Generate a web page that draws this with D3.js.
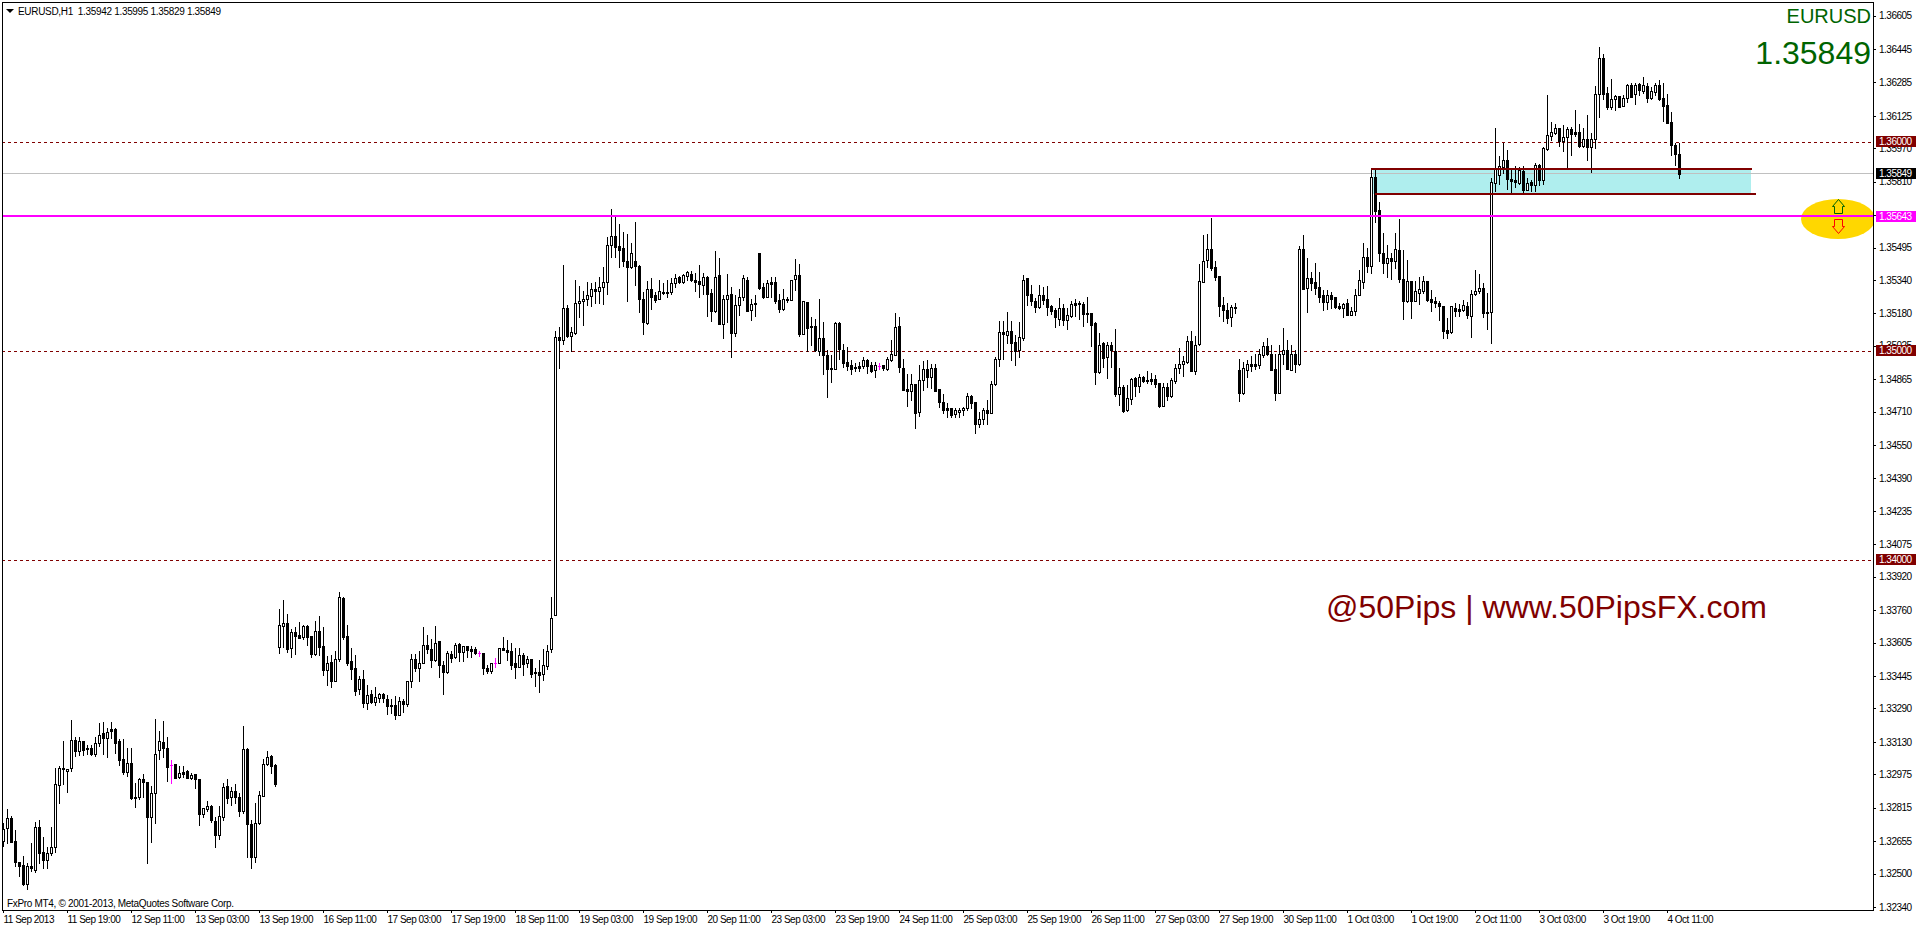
<!DOCTYPE html>
<html>
<head>
<meta charset="utf-8">
<title>EURUSD,H1</title>
<script src="https://d3js.org/d3.v7.min.js"></script>
<style>
html,body{margin:0;padding:0;background:#fff;overflow:hidden}
svg{display:block}
text{font-family:"Liberation Sans",Arial,sans-serif}
.small{font-size:10px;letter-spacing:-.5px;fill:#000}
.wide{letter-spacing:-.32px}
.axis text{font-family:"Liberation Sans",Arial,sans-serif;font-size:10px;letter-spacing:-.5px;fill:#000}
.axis line{stroke:#000;shape-rendering:crispEdges}
</style>
</head>
<body>
<script>
// Prices are held as points above basePrice
const basePrice = 1.32, pointSize = 0.00001;
const opens = [
657,716,764,654,557,539,450,534,517,721,601,563,597,625,925,1003,989,1003,1137,1088,
1134,1099,1099,1072,1123,1171,1147,1190,1192,1133,1046,987,1027,868,865,952,938,769,884,1091,
1128,1099,1021,1022,960,986,991,959,976,952,786,810,823,751,686,772,917,865,893,865,
801,1096,737,577,743,873,1022,1062,1019,1582,1682,1697,1577,1655,1639,1630,1682,1636,1552,1660,
1588,1475,1510,1422,1524,1818,1636,1516,1481,1381,1433,1317,1357,1322,1341,1357,1333,1304,1304,1260,
1325,1312,1419,1524,1481,1505,1591,1574,1521,1611,1500,1465,1550,1534,1596,1561,1587,1574,1574,1553,
1553,1481,1470,1505,1505,1577,1571,1563,1505,1489,1544,1505,1524,1462,1462,1453,1492,1572,1737,3065,
3055,3204,3074,3087,3228,3237,3247,3264,3299,3288,3307,3328,3505,3550,3502,3491,3433,3403,3433,3409,
3251,3133,3299,3266,3250,3277,3280,3282,3323,3352,3330,3360,3369,3342,3333,3317,3355,3277,3192,3362,
3130,3247,3271,3087,3218,3256,3342,3196,3228,3467,3304,3259,3330,3330,3244,3200,3251,3245,3346,3366,
3082,3234,3122,3122,3001,3062,2980,2918,2912,3134,3003,2945,2931,2923,2926,2926,2955,2931,2910,2928,
2931,2915,2958,2982,3118,2921,2816,2810,2840,2706,2859,2912,2874,2921,2816,2754,2725,2725,2697,2709,
2716,2725,2787,2754,2652,2677,2716,2705,2842,2960,3089,3078,3098,3043,3004,3063,3347,3275,3240,3212,
3268,3248,3215,3196,3154,3205,3148,3167,3228,3229,3224,3181,3180,3132,2899,3036,2969,3027,3001,2795,
2827,2717,2771,2870,2834,2875,2861,2864,2864,2845,2738,2827,2783,2857,2920,2939,2948,3046,2905,3035,
3331,3436,3486,3401,3357,3220,3196,3164,3210,2909,2798,2910,2937,2937,2934,2980,3023,2988,2913,2800,
2984,3007,2910,2984,2936,3486,3303,3347,3328,3304,3266,3236,3266,3256,3213,3207,3228,3173,3189,3269,
3332,3448,3405,3831,3673,3471,3423,3444,3429,3484,3343,3241,3334,3241,3279,3289,3334,3247,3238,3231,
3216,3099,3093,3204,3201,3196,3216,3169,3273,3286,3300,3185,3185,3806,3842,3882,3914,3821,3818,3802,
3861,3772,3809,3794,3890,3820,3968,4030,4045,4065,4006,4026,4061,4048,4048,3983,4013,3978,4016,4228,
4400,4233,4169,4204,4219,4174,4212,4273,4228,4276,4246,4268,4212,4241,4273,4211,4177,4094,3984,3942];
const closes = [
711,764,652,557,538,450,536,528,721,600,565,597,625,927,1003,999,999,1137,1088,1134,
1093,1094,1070,1123,1161,1150,1179,1184,1126,1043,987,1027,861,863,952,939,772,884,1070,1133,
1099,1011,1021,959,979,976,959,971,951,785,812,821,756,684,775,916,860,893,865,801,
1094,735,577,740,874,1022,1056,1016,928,1687,1697,1572,1655,1638,1626,1682,1633,1552,1662,1585,
1473,1508,1422,1528,1821,1630,1508,1477,1374,1433,1317,1355,1322,1343,1357,1341,1303,1301,1260,1323,
1312,1419,1524,1485,1505,1591,1574,1523,1601,1500,1465,1553,1532,1591,1561,1587,1571,1566,1553,1553,
1485,1470,1505,1505,1577,1571,1561,1499,1489,1544,1504,1524,1456,1457,1451,1496,1566,1721,3065,3055,
3204,3071,3089,3228,3237,3247,3266,3299,3288,3304,3328,3505,3550,3499,3484,3432,3403,3467,3408,3250,
3140,3299,3259,3243,3285,3280,3277,3323,3347,3330,3363,3376,3339,3331,3322,3352,3274,3192,3355,3130,
3247,3267,3087,3218,3256,3347,3192,3223,3223,3303,3258,3323,3320,3240,3200,3251,3244,3342,3366,3081,
3237,3111,3116,3004,3060,2980,2915,2912,3134,3008,2944,2928,2915,2920,2920,2955,2928,2905,2931,2928,
2918,2960,2984,3113,2925,2815,2810,2840,2705,2859,2912,2875,2921,2810,2757,2717,2719,2693,2716,2719,
2725,2783,2752,2653,2677,2716,2705,2840,2960,3089,3083,3098,3039,3000,3065,3342,3269,3240,3212,3268,
3244,3212,3193,3162,3204,3148,3172,3223,3221,3223,3177,3178,3126,2901,3031,2968,3027,3004,2794,2829,
2712,2776,2864,2832,2875,2857,2856,2857,2843,2736,2827,2784,2859,2920,2940,2950,3046,2905,3031,3334,
3433,3486,3397,3354,3216,3196,3157,3210,3207,2800,2917,2937,2929,2929,2984,3022,2984,2910,2800,2984,
3007,2915,2984,2937,3486,3298,3347,3326,3303,3259,3236,3266,3247,3212,3205,3223,3173,3189,3269,3338,
3448,3409,3831,3672,3471,3423,3444,3432,3487,3346,3241,3334,3241,3286,3295,3334,3244,3235,3231,3217,
3097,3088,3214,3192,3192,3219,3172,3273,3286,3300,3184,3182,3807,3874,3885,3914,3825,3815,3807,3866,
3770,3806,3794,3888,3818,3971,4032,4048,4065,4006,4022,4061,4038,4038,3981,4013,3978,4013,4228,4400,
4228,4169,4207,4219,4169,4209,4271,4217,4273,4249,4273,4212,4243,4273,4206,4174,4093,3984,3941,3849];
const highs = [
740,807,775,708,557,584,552,644,748,756,673,625,721,1003,1014,1134,999,1235,1155,1155,
1134,1115,1115,1155,1222,1225,1195,1227,1195,1142,1142,1099,1099,935,955,976,939,919,1238,1182,
1228,1152,1043,1024,1014,1014,995,983,976,954,812,847,828,772,823,932,954,916,928,887,
1206,1099,756,836,895,1046,1086,1067,1022,1764,1808,1741,1668,1678,1703,1689,1689,1636,1709,1732,
1681,1540,1545,1564,1847,1821,1687,1577,1545,1445,1473,1400,1378,1390,1365,1365,1354,1333,1349,1346,
1333,1419,1550,1550,1566,1678,1641,1620,1684,1612,1516,1566,1566,1604,1601,1588,1588,1588,1585,1564,
1553,1500,1508,1531,1580,1630,1617,1601,1577,1577,1556,1540,1528,1481,1521,1572,1593,1821,3097,3116,
3411,3220,3116,3339,3310,3288,3328,3323,3331,3352,3400,3547,3679,3642,3610,3567,3562,3515,3618,3411,
3283,3334,3347,3283,3339,3326,3339,3347,3368,3358,3368,3384,3384,3371,3411,3371,3358,3299,3480,3443,
3267,3368,3304,3267,3295,3362,3352,3251,3267,3467,3326,3339,3352,3352,3271,3295,3259,3342,3438,3416,
3237,3236,3161,3151,3248,3140,3004,2980,3137,3137,3033,3017,2957,2944,2947,2972,2964,2949,2949,2941,
2931,2969,3055,3180,3164,2964,2890,2890,2842,2933,2953,2957,2937,2937,2816,2792,2749,2725,2725,2725,
2733,2800,2789,2754,2709,2725,2765,2858,2972,3145,3145,3185,3143,3076,3140,3363,3347,3315,3252,3315,
3307,3311,3220,3204,3252,3224,3204,3240,3247,3240,3236,3256,3180,3137,3087,3044,3044,3044,3103,2921,
2835,2837,2869,2877,2889,2881,2902,2893,2885,2848,2845,2845,2873,2937,3012,2977,3073,3097,3071,3416,
3555,3562,3634,3430,3358,3256,3228,3220,3228,2960,2948,2956,2976,2988,3009,3044,3062,3028,2988,3028,
3108,3052,3028,3004,3504,3555,3443,3379,3419,3379,3291,3291,3283,3259,3228,3231,3247,3212,3299,3387,
3515,3491,3871,3871,3712,3566,3507,3468,3563,3632,3484,3436,3337,3337,3356,3359,3334,3292,3260,3241,
3216,3158,3216,3228,3225,3244,3236,3292,3388,3369,3324,3276,3826,4065,3933,3997,3962,3869,3885,3879,
3885,3826,3818,3898,3893,3975,4225,4094,4085,4065,4081,4073,4073,4153,4086,4065,4129,4045,4268,4453,
4421,4262,4300,4225,4220,4225,4278,4281,4284,4281,4313,4284,4262,4284,4297,4284,4230,4142,3997,3995];
const lows = [
632,644,652,536,490,445,426,514,509,552,525,528,589,605,839,928,892,992,1062,1067,
1067,1072,1067,1062,1110,1072,1059,1147,1078,1019,976,967,858,820,855,868,552,651,740,1046,
1056,944,935,955,957,963,957,951,909,732,769,801,748,628,665,756,839,828,839,775,
791,581,528,557,737,873,1019,979,919,1556,1585,1561,1537,1550,1626,1620,1593,1537,1544,1545,
1449,1402,1394,1422,1518,1620,1497,1433,1354,1359,1295,1288,1317,1306,1320,1320,1263,1266,1240,1260,
1272,1301,1394,1470,1421,1505,1556,1489,1516,1441,1358,1461,1513,1529,1516,1516,1537,1534,1550,1540,
1454,1461,1457,1486,1505,1569,1521,1477,1437,1486,1449,1489,1441,1398,1370,1426,1477,1561,1737,2920,
3033,3065,3000,3081,3164,3124,3220,3215,3228,3231,3224,3271,3451,3451,3403,3406,3240,3398,3315,3188,
3081,3129,3199,3235,3247,3272,3259,3272,3304,3326,3326,3339,3334,3288,3259,3272,3167,3145,3188,3129,
3063,3140,2969,3071,3172,3244,3191,3148,3167,3299,3255,3256,3259,3231,3188,3196,3236,3245,3291,3071,
3082,3000,3028,3001,2980,2890,2781,2853,2912,2960,2925,2909,2890,2905,2905,2921,2896,2901,2877,2912,
2909,2909,2953,2979,2901,2813,2736,2765,2633,2690,2813,2829,2821,2810,2733,2705,2682,2685,2682,2682,
2693,2717,2725,2609,2634,2653,2650,2701,2835,2928,2960,3039,2957,2933,2972,3052,3220,3220,3188,3204,
3224,3172,3177,3116,3124,3124,3105,3161,3167,3151,3121,3140,3023,2842,2893,2924,2872,2924,2786,2743,
2708,2714,2746,2784,2802,2853,2848,2840,2829,2733,2738,2765,2778,2848,2893,2880,2944,2902,2889,3027,
3328,3403,3387,3339,3167,3145,3135,3119,3180,2762,2794,2877,2905,2912,2920,2972,2980,2910,2765,2800,
2940,2915,2909,2901,2932,3295,3188,3291,3271,3236,3196,3202,3204,3204,3202,3164,3172,3173,3172,3266,
3303,3380,3375,3619,3432,3375,3356,3343,3396,3332,3155,3236,3160,3241,3225,3279,3241,3192,3212,3149,
3064,3064,3088,3168,3168,3193,3157,3069,3268,3276,3165,3107,3037,3767,3799,3853,3777,3754,3783,3799,
3762,3770,3767,3767,3794,3798,3962,4010,4038,3981,3959,3882,3938,4029,3978,3978,3914,3858,3973,4121,
4206,4158,4156,4153,4166,4172,4193,4214,4182,4225,4233,4193,4204,4225,4201,4102,4089,3938,3890,3829];

const priceTicks = [1.36605,1.36445,1.36285,1.36125,1.35970,1.35810,1.35650,1.35495,1.35340,1.35180,1.35025,1.34865,1.34710,1.34550,1.34390,1.34235,1.34075,1.33920,1.33760,1.33605,1.33445,1.33290,1.33130,1.32975,1.32815,1.32655,1.32500,1.32340];
const timeTickBars = [0,16,32,48,64,80,96,112,128,144,160,176,192,208,224,240,256,272,288,304,320,336,352,368,384,400,416];
const timeLabels = ["11 Sep 2013","11 Sep 19:00","12 Sep 11:00","13 Sep 03:00","13 Sep 19:00","16 Sep 11:00","17 Sep 03:00","17 Sep 19:00","18 Sep 11:00","19 Sep 03:00","19 Sep 19:00","20 Sep 11:00","23 Sep 03:00","23 Sep 19:00","24 Sep 11:00","25 Sep 03:00","25 Sep 19:00","26 Sep 11:00","27 Sep 03:00","27 Sep 19:00","30 Sep 11:00","1 Oct 03:00","1 Oct 19:00","2 Oct 11:00","3 Oct 03:00","3 Oct 19:00","4 Oct 11:00"];
const dashedLevels = [1.36,1.35,1.34];
const bidPrice = 1.35849, pivotPrice = 1.35643;
const zoneTop = 1.35871, zoneBottom = 1.35751;
const headerText = "EURUSD,H1  1.35942 1.35995 1.35829 1.35849";
const copyrightText = "FxPro MT4, \u00A9 2001-2013, MetaQuotes Software Corp.";
const watermark = "@50Pips | www.50PipsFX.com";

if ([closes,highs,lows].some(a=>a.length!==opens.length)) throw new Error("length mismatch "+[opens.length,closes.length,highs.length,lows.length]);

const W = 1916, H = 928, axisX = 1873, axisY = 910, frameLeft = 2, frameTop = 3;
const toPrice = v => basePrice + v*pointSize;
const x = d3.scaleLinear().domain([0,1]).range([3,7]);          // bar index -> pixel column
const y = d3.scaleLinear().domain([1.34,1.36]).range([560,142]);
const py = p => Math.round(y(p));
const svg = d3.select("body").append("svg").attr("width",W).attr("height",H).attr("shape-rendering","crispEdges");

// zone
svg.append("rect").attr("x",x(342.5)).attr("width",x(437)-x(342.5)).attr("y",py(zoneTop)).attr("height",py(zoneBottom)-py(zoneTop)).attr("fill","#AFEEEE");
// bid line & dashed levels
svg.append("rect").attr("x",frameLeft).attr("width",axisX-frameLeft).attr("y",py(bidPrice)-1).attr("height",1).attr("fill","#C0C0C0");
svg.selectAll("line.level").data(dashedLevels).join("line").attr("class","level")
  .attr("x1",frameLeft).attr("x2",axisX).attr("y1",d=>py(d)+.5).attr("y2",d=>py(d)+.5)
  .attr("stroke","#800000").attr("stroke-dasharray","3 3");

// candles
const bars = d3.range(opens.length);
const isDoji = i => opens[i]===closes[i];
const isBull = i => closes[i]>opens[i];
const bodyTop = i => py(toPrice(Math.max(opens[i],closes[i])));
const bodyBot = i => py(toPrice(Math.min(opens[i],closes[i])));
const g = svg.append("g");
g.selectAll("rect.wick").data(bars).join("rect").attr("class","wick")
  .attr("x",i=>x(i)).attr("width",1)
  .attr("y",i=>py(toPrice(highs[i])))
  .attr("height",i=>Math.max(1,py(toPrice(lows[i]))-py(toPrice(highs[i]))+1))
  .attr("fill",i=>isDoji(i)?"#FF00FF":"#000");
g.selectAll("rect.body").data(bars).join("rect").attr("class","body")
  .attr("x",i=>x(i)-1).attr("width",3)
  .attr("y",bodyTop).attr("height",i=>Math.max(1,bodyBot(i)-bodyTop(i)+1))
  .attr("fill",i=>isDoji(i)?"#FF00FF":"#000");
g.selectAll("rect.hollow").data(bars.filter(i=>isBull(i)&&bodyBot(i)-bodyTop(i)>=2)).join("rect").attr("class","hollow")
  .attr("x",i=>x(i)).attr("width",1)
  .attr("y",i=>bodyTop(i)+1).attr("height",i=>bodyBot(i)-bodyTop(i)-1)
  .attr("fill","#fff");

// zone borders
svg.append("rect").attr("x",x(342)).attr("width",x(437.25)-x(342)).attr("y",py(zoneTop)-1).attr("height",2).attr("fill","#800000");
svg.append("rect").attr("x",x(343)).attr("width",x(438.25)-x(343)).attr("y",py(zoneBottom)-1).attr("height",2).attr("fill","#800000");

// gold ellipse & arrows
svg.append("clipPath").attr("id","plot").append("rect").attr("x",0).attr("y",0).attr("width",axisX).attr("height",H);
svg.append("ellipse").attr("cx",1838).attr("cy",219).attr("rx",37).attr("ry",20).attr("fill","#FFD700").attr("clip-path","url(#plot)").attr("shape-rendering","auto");
svg.append("rect").attr("x",frameLeft).attr("width",axisX-frameLeft).attr("y",py(pivotPrice)-2).attr("height",2).attr("fill","#FF00FF");
const upPath = "M1838.5 199.5 L1844.5 206.5 L1842.5 206.5 L1842.5 213.5 L1834.5 213.5 L1834.5 206.5 L1832.5 206.5 Z";
const downPath = "M1838.5 233.5 L1844.5 226.5 L1842.5 226.5 L1842.5 219.5 L1834.5 219.5 L1834.5 226.5 L1832.5 226.5 Z";
svg.append("path").attr("d",upPath).attr("fill","none").attr("stroke","#006400").attr("shape-rendering","auto");
svg.append("path").attr("d",downPath).attr("fill","none").attr("stroke","#FF0000").attr("shape-rendering","auto");

// frame
svg.append("rect").attr("x",frameLeft).attr("y",frameTop-1).attr("width",axisX-frameLeft+1).attr("height",1).attr("fill","#000");
svg.append("rect").attr("x",frameLeft).attr("y",frameTop-1).attr("width",1).attr("height",axisY-frameTop+2).attr("fill","#000");
svg.append("rect").attr("x",axisX).attr("y",frameTop-1).attr("width",1).attr("height",axisY-frameTop+2).attr("fill","#000");
svg.append("rect").attr("x",frameLeft).attr("y",axisY).attr("width",axisX-frameLeft+1).attr("height",1).attr("fill","#000");

// axes
const yAxis = d3.axisRight(y).tickValues(priceTicks).tickSize(3).tickPadding(3).tickFormat(d3.format(".5f"));
svg.append("g").attr("class","axis").attr("transform",`translate(${axisX},0)`).call(yAxis).call(s=>s.select(".domain").remove());
const xAxis = d3.axisBottom(x).tickValues(timeTickBars).tickSize(3).tickPadding(3).tickFormat((d,i)=>timeLabels[i]);
svg.append("g").attr("class","axis").attr("transform",`translate(0,${axisY})`).call(xAxis)
  .call(s=>s.select(".domain").remove())
  .call(s=>s.selectAll("text").attr("text-anchor","start").attr("x",0));

// price tags
const tags = [{p:1.36,c:"#800000"},{p:1.35,c:"#800000"},{p:1.34,c:"#800000"},{p:bidPrice,c:"#000"},{p:pivotPrice,c:"#FF00FF"}];
const tag = svg.append("g").selectAll("g").data(tags).join("g");
tag.append("rect").attr("x",1876).attr("width",40).attr("y",d=>py(d.p)-6).attr("height",11).attr("fill",d=>d.c);
tag.append("text").attr("class","small").attr("x",1879).attr("y",d=>y(d.p)+3.1).style("fill","#fff").text(d=>d3.format(".5f")(d.p));

// header
svg.append("path").attr("d","M6 9 L14 9 L10 13 Z").attr("fill","#000").attr("shape-rendering","auto");
svg.append("text").attr("class","small wide").attr("x",18).attr("y",14.5).style("white-space","pre").text(headerText);
svg.append("text").attr("class","small wide").attr("x",7).attr("y",906.5).text(copyrightText);

// big labels
svg.append("text").attr("x",1871).attr("y",23).attr("text-anchor","end").attr("font-size",20).attr("fill","#006400").text("EURUSD");
svg.append("text").attr("x",1871).attr("y",63.5).attr("text-anchor","end").attr("font-size",32).attr("fill","#006400").text(d3.format(".5f")(bidPrice));
svg.append("text").attr("x",1326).attr("y",618).attr("font-size",32).attr("fill","#800000").text(watermark);
</script>
</body>
</html>
